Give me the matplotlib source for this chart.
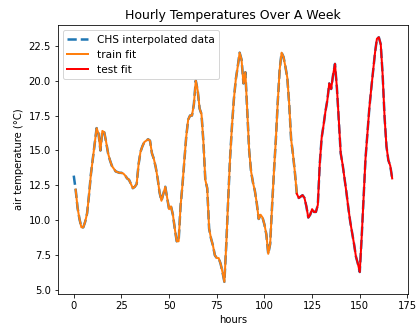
import matplotlib
matplotlib.use('Agg')
import matplotlib.pyplot as plt
import numpy as np

# hourly air temperature (deg C), hours 0..167
temps = [
    13.2, 12.2, 10.9, 10.1, 9.5, 9.5, 9.9, 10.5, 11.8, 13.3,
    14.4, 15.5, 16.6, 16.2, 15.0, 16.4, 16.3, 15.6, 14.8, 14.3,
    13.9, 13.7, 13.5, 13.45, 13.4, 13.4, 13.35, 13.2, 13.0, 12.9,
    12.6, 12.3, 12.4, 12.6, 14.0, 14.9, 15.3, 15.6, 15.7, 15.8,
    15.7, 14.8, 14.4, 13.8, 13.0, 12.0, 11.4, 11.9, 12.4, 11.6,
    10.8, 11.0, 10.4, 9.4, 8.5, 8.5, 11.0, 12.5, 14.3, 16.0,
    17.2, 17.5, 17.5, 18.3, 20.0, 19.3, 18.0, 17.6, 15.6, 12.9,
    12.3, 9.4, 8.7, 8.2, 7.5, 7.3, 7.3, 6.9, 6.3, 5.6,
    8.3, 11.5, 14.5, 16.8, 18.7, 20.1, 21.0, 22.0, 21.5, 19.8,
    20.6, 17.8, 15.0, 13.5, 12.7, 12.1, 11.2, 10.1, 10.4, 10.2,
    9.7, 9.0, 7.6, 8.3, 11.0, 13.5, 15.8, 18.5, 20.8, 22.0,
    21.7, 21.0, 20.2, 18.3, 15.8, 14.7, 13.4, 11.9, 11.6, 11.7,
    11.8, 11.6, 11.0, 10.2, 10.4, 10.8, 10.6, 10.6, 11.1, 14.0,
    15.9, 16.8, 17.8, 18.6, 19.8, 19.4, 20.4, 21.2, 19.5, 17.2,
    14.8, 14.0, 13.0, 12.0, 10.9, 9.9, 9.1, 8.3, 7.4, 6.9,
    6.3, 8.8, 11.6, 14.4, 16.2, 18.0, 19.4, 20.7, 22.0, 23.0,
    23.1, 22.6, 20.4, 17.4, 15.3, 14.3, 13.9, 13.0,
]
hours = np.arange(len(temps))
temps = np.array(temps)

# train fit starts one hour in, test fit takes over at hour 117
train_start = 1
split = 117

fig, ax = plt.subplots(figsize=(419 / 72, 330 / 72), dpi=72)
fig.subplots_adjust(left=0.138, right=0.974, top=0.924, bottom=0.109)

ax.plot(hours, temps, '--', color='#1f77b4', linewidth=2.5, label='CHS interpolated data')
ax.plot(hours[train_start:split + 1], temps[train_start:split + 1], color='#ff7f0e',
        linewidth=2, label='train fit')
ax.plot(hours[split:], temps[split:], color='red', linewidth=2, label='test fit')

ax.set_title('Hourly Temperatures Over A Week', fontsize=12.5)
ax.set_xlabel('hours')
ax.set_ylabel('air temperature (°C)')
ax.legend(loc='upper left', fontsize=10.5)

fig.savefig('out.png', dpi=72)
